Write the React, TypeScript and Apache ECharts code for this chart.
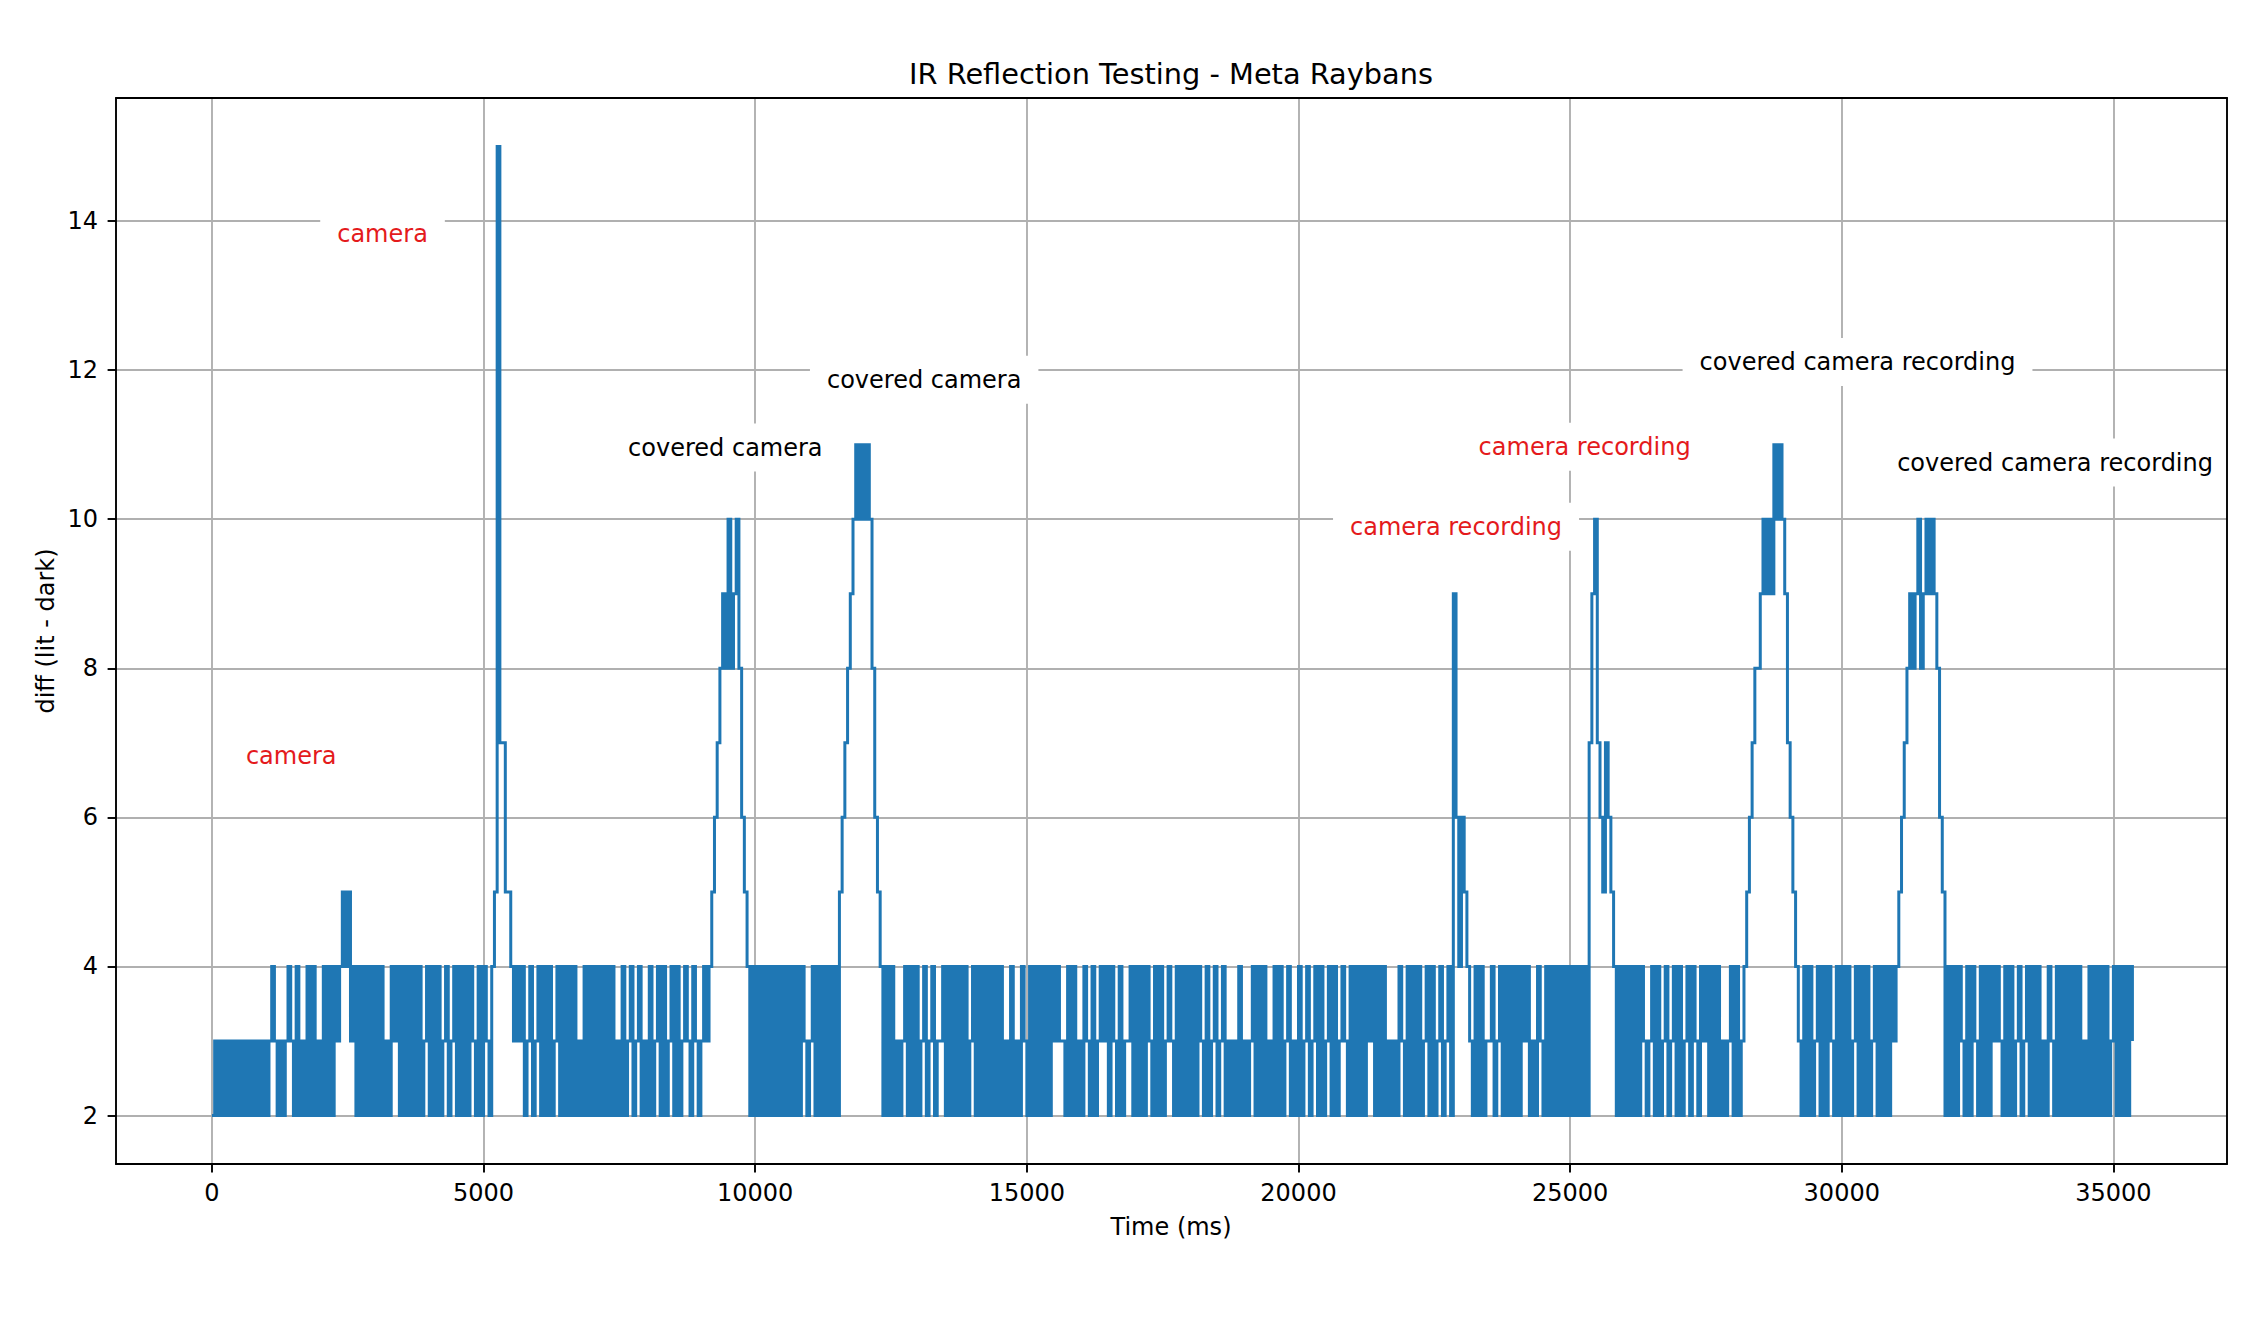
import React, { useEffect, useRef } from "react";
import * as echarts from "echarts";

// ---- data -------------------------------------------------------------
// Sampling step of the recording (ms)
const SAMPLE_MS = 50;
// diff (lit - dark) per 50 ms sample; one string per second of recording.
// Each character is one sample written in hex (a = 10, b = 11, f = 15).
const diffBySecond: string[] = [
  "23232323232323232323", // 0 s
  "23432323432423242423", // 1 s
  "24242434545342424242", // 2 s
  "42423243424242424234", // 3 s
  "24242342342424243242", // 4 s
  "43245f77554343423423", // 5 s
  "42424234242424232424", // 6 s
  "24242424232423423423", // 7 s
  "24234242342423432432", // 8 s
  "3434567898a89a865424", // 9 s
  "24242424242424242432", // 10 s
  "3424242424256789abab", // 11 s
  "aba86542424232342424", // 12 s
  "23423423342424242423", // 13 s
  "42424242424232423243", // 14 s
  "24242424243433242423", // 15 s
  "24324234342432423342", // 16 s
  "42424324242343242424", // 17 s
  "24243242342342323242", // 18 s
  "32342424232424234232", // 19 s
  "42342342423424234324", // 20 s
  "24242434242423232432", // 21 s
  "42424234242342342964", // 22 s
  "65432424233423424242", // 23 s
  "42434232432424242424", // 24 s
  "242424279a7657654242", // 25 s
  "42424243234242342342", // 26 s
  "42342432434242423234", // 27 s
  "24234567889a9a9baba9", // 28 s
  "76543242423424243242", // 29 s
  "42423424242342424243", // 30 s
  "45678989a89a9a986524", // 31 s
  "24243242432424243432", // 32 s
  "42423423424242324324", // 33 s
  "24242424232424242423", // 34 s
  "42424243", // 35 s
];

const xTicks = [0, 5000, 10000, 15000, 20000, 25000, 30000, 35000];
const yTicks = [2, 4, 6, 8, 10, 12, 14];

const noteTexts = [
  "camera",
  "camera",
  "covered camera",
  "covered camera",
  "camera recording",
  "camera recording",
  "covered camera recording",
  "covered camera recording",
];
const noteX = [3140, 1459, 9450, 13110, 22900, 25267, 30290, 33926];
const noteY = [13.83, 6.82, 10.96, 11.87, 9.9, 10.97, 12.11, 10.76];
const noteColors = ["#e41a1c", "#e41a1c", "#000000", "#000000", "#e41a1c", "#e41a1c", "#000000", "#000000"];

const TITLE = "IR Reflection Testing - Meta Raybans";
const X_NAME = "Time (ms)";
const Y_NAME = "diff (lit - dark)";

// ---- component --------------------------------------------------------
const FONT = "DejaVu Sans";

export default function App() {
  const ref = useRef<HTMLDivElement>(null);

  useEffect(() => {
    if (!ref.current) return;
    const chart = echarts.init(ref.current, undefined, { renderer: "svg" });

    const samples: number[][] = [];
    diffBySecond.join("").split("").forEach((ch, i) => {
      samples.push([i * SAMPLE_MS, parseInt(ch, 16)]);
    });

    const notes = noteTexts.map((t, i) => ({
      value: [noteX[i], noteY[i]],
      name: t,
      label: { color: noteColors[i] },
    }));

    const axisText = { fontSize: 24, color: "#000", fontFamily: FONT };
    const spine = { show: true, onZero: false, lineStyle: { color: "#000", width: 1.9 } };
    const X_MIN = -1766;
    const X_MAX = 37091;
    const Y_MIN = 1.35;
    const Y_MAX = 15.65;

    chart.setOption({
      animation: false,
      backgroundColor: "#ffffff",
      grid: {
        left: 116,
        right: 29,
        top: 98,
        bottom: 154,
        show: false,
      },
      xAxis: [
        {
          type: "value",
          min: X_MIN,
          max: X_MAX,
          position: "bottom",
          z: 10,
          axisLine: spine,
          axisTick: {
            show: true,
            length: 8.4,
            customValues: xTicks,
            lineStyle: { color: "#000", width: 1.9 },
          },
          axisLabel: {
            ...axisText,
            customValues: xTicks,
            margin: 17,
            formatter: (v: number) => String(v),
          },
          splitLine: { show: false },
        },
        {
          type: "value",
          min: X_MIN,
          max: X_MAX,
          position: "top",
          z: 10,
          axisLine: spine,
          axisTick: { show: false },
          axisLabel: { show: false },
          splitLine: { show: false },
        },
      ],
      yAxis: [
        {
          type: "value",
          min: Y_MIN,
          max: Y_MAX,
          position: "left",
          z: 10,
          axisLine: spine,
          axisTick: {
            show: true,
            length: 8.4,
            customValues: yTicks,
            lineStyle: { color: "#000", width: 1.9 },
          },
          axisLabel: {
            ...axisText,
            customValues: yTicks,
            margin: 18,
            formatter: (v: number) => String(v),
          },
          splitLine: { show: false },
        },
        {
          type: "value",
          min: Y_MIN,
          max: Y_MAX,
          position: "right",
          z: 10,
          axisLine: spine,
          axisTick: { show: false },
          axisLabel: { show: false },
          splitLine: { show: false },
        },
      ],
      graphic: [
        {
          type: "text",
          x: 1171,
          y: 73.5,
          style: {
            text: TITLE,
            fontSize: 28.8,
            fontFamily: FONT,
            fill: "#000",
            textAlign: "center",
            textVerticalAlign: "middle",
          },
        },
        {
          type: "text",
          x: 1171,
          y: 1227,
          style: {
            text: X_NAME,
            fontSize: 24,
            fontFamily: FONT,
            fill: "#000",
            textAlign: "center",
            textVerticalAlign: "middle",
          },
        },
        {
          type: "text",
          x: 46,
          y: 631,
          rotation: Math.PI / 2,
          style: {
            text: Y_NAME,
            fontSize: 24,
            fontFamily: FONT,
            fill: "#000",
            textAlign: "center",
            textVerticalAlign: "middle",
          },
        },
      ],
      series: [
        {
          type: "line",
          name: "grid",
          data: [],
          z: 1,
          silent: true,
          markLine: {
            z: 1,
            silent: true,
            animation: false,
            symbol: ["none", "none"],
            label: { show: false },
            lineStyle: { color: "#b0b0b0", width: 1.9, type: "solid" },
            emphasis: { disabled: true },
            data: [
              ...xTicks.map((v) => ({ xAxis: v })),
              ...yTicks.map((v) => ({ yAxis: v })),
            ],
          },
        },
        {
          type: "line",
          name: "diff",
          data: samples,
          step: "end",
          showSymbol: false,
          symbol: "none",
          z: 2,
          silent: true,
          lineStyle: { color: "#1f77b4", width: 3, join: "miter", opacity: 1 },
        },
        {
          type: "scatter",
          name: "notes",
          data: notes,
          symbolSize: 0.1,
          z: 3,
          silent: true,
          itemStyle: { color: "transparent", opacity: 1 },
          label: {
            show: true,
            position: "inside",
            formatter: (p: any) => p.name,
            fontSize: 24,
            fontFamily: FONT,
            lineHeight: 28,
            opacity: 1,
            textBorderWidth: 0,
            backgroundColor: "#ffffff",
            padding: [14, 17, 6, 17],
          },
        },
      ],
    });

    return () => {
      chart.dispose();
    };
  }, []);

  return (
    <div
      ref={ref}
      style={{ position: "fixed", left: 0, top: 0, width: 2256, height: 1318, background: "#fff" }}
    />
  );
}
